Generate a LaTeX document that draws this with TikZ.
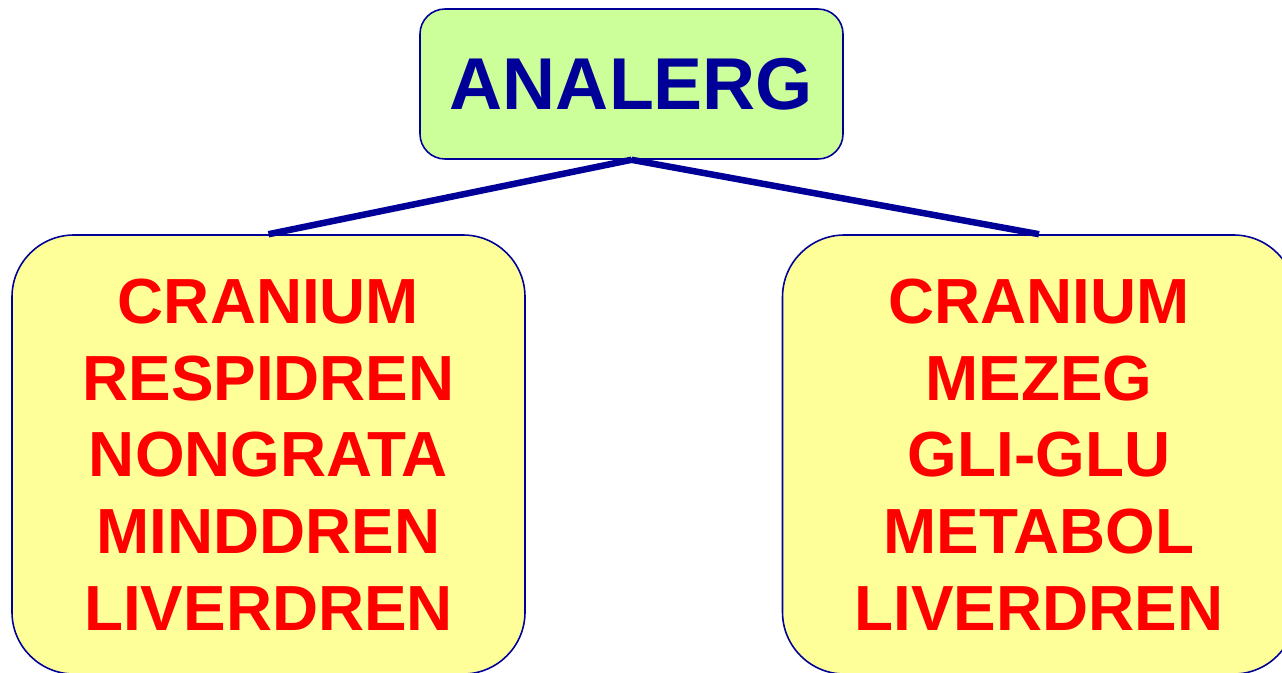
\documentclass[tikz,border=0pt]{standalone}
\usepackage{fontspec}
\setmainfont{Liberation Sans}
\definecolor{navy}{RGB}{0,0,153}
\definecolor{lightgreen}{RGB}{204,255,153}
\definecolor{lightyellow}{RGB}{255,255,153}
\begin{document}
\begin{tikzpicture}[
	topbox/.style={rectangle,rounded corners=0.5cm,draw=navy,line width=0.9pt,fill=lightgreen,minimum width=8.46cm,minimum height=3cm,inner sep=0pt,text=navy,font=\fontsize{41.8}{48}\selectfont\bfseries},
	listbox/.style={rectangle,rounded corners=1.24cm,draw=navy,line width=0.9pt,fill=lightyellow,minimum width=10.26cm,minimum height=8.78cm,inner sep=0pt,align=center,text=red,font=\fontsize{36.3}{43.6}\selectfont\bfseries},
	link/.style={line width=0.13cm,color=navy}]
	
	\useasboundingbox (0,0) rectangle (25.64,13.44);
	%boxes
	\node[topbox](analerg) at (12.63,11.76) {ANALERG};
	\node[listbox](leftlist) at (5.37,4.35) {CRANIUM\\RESPIDREN\\NONGRATA\\MINDDREN\\LIVERDREN};
	\node[listbox](rightlist) at (20.78,4.35) {CRANIUM\\MEZEG\\GLI-GLU\\METABOL\\LIVERDREN};
	%lines
	\draw[link] (analerg.south) -- (leftlist.north);
	\draw[link] (analerg.south) -- (rightlist.north);
\end{tikzpicture}
\end{document}
